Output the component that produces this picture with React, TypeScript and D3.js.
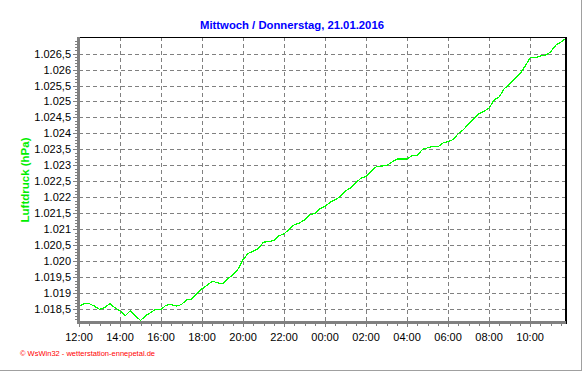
import React, { useEffect, useRef } from "react";
import * as d3 from "d3";

const title = "Mittwoch / Donnerstag, 21.01.2016";
const yTitle = "Luftdruck (hPa)";
const credit = "© WsWin32 - wetterstation-ennepetal.de";

// air pressure (hPa), one reading every 15 minutes from Wed 20.01.2016 12:00
const startTime = new Date(2016, 0, 20, 12, 0);
const pressure = [
  1018.6, 1018.68, 1018.68, 1018.6, 1018.5, 1018.55, 1018.68, 1018.55,
  1018.45, 1018.3, 1018.45, 1018.3, 1018.15, 1018.3, 1018.4, 1018.5,
  1018.5, 1018.63, 1018.65, 1018.6, 1018.65, 1018.8, 1018.82, 1019.0,
  1019.14, 1019.25, 1019.38, 1019.33, 1019.3, 1019.45, 1019.58, 1019.75,
  1020.05, 1020.25, 1020.32, 1020.4, 1020.6, 1020.62, 1020.65, 1020.8,
  1020.86, 1021.0, 1021.15, 1021.2, 1021.3, 1021.45, 1021.5, 1021.65,
  1021.72, 1021.85, 1021.93, 1022.03, 1022.2, 1022.3, 1022.46, 1022.6,
  1022.65, 1022.82, 1022.96, 1022.98, 1023.0, 1023.1, 1023.2, 1023.2,
  1023.2, 1023.31, 1023.31, 1023.5, 1023.55, 1023.6, 1023.58, 1023.7,
  1023.75, 1023.81, 1024.0, 1024.12, 1024.3, 1024.45, 1024.62, 1024.69,
  1024.8, 1025.05, 1025.15, 1025.41, 1025.54, 1025.7, 1025.86, 1026.1,
  1026.37, 1026.37, 1026.42, 1026.45, 1026.55, 1026.76, 1026.86, 1026.97,
];

const yTicks = [
  1018.5, 1019, 1019.5, 1020, 1020.5, 1021, 1021.5, 1022, 1022.5, 1023,
  1023.5, 1024, 1024.5, 1025, 1025.5, 1026, 1026.5,
];

const de = d3.formatLocale({
  decimal: ",",
  thousands: ".",
  grouping: [3],
  currency: ["", " €"],
});
const fmtY = de.format(",.1~f");
const fmtX = d3.timeFormat("%H:%M");

const FONT = "'Liberation Sans', Arial, sans-serif";
const GRID = "#808080";

export default function App() {
  const svgRef = useRef<SVGSVGElement>(null);

  useEffect(() => {
    const svg = d3.select(svgRef.current);
    svg.selectAll("*").remove();

    const data = pressure.map((v, i) => ({
      time: d3.timeMinute.offset(startTime, i * 15),
      value: v,
    }));

    const left = 79, right = 566, top = 37, bottom = 321;

    const x = d3
      .scaleTime()
      .domain(d3.extent(data, (d) => d.time) as [Date, Date])
      .range([left, right]);
    const y = d3
      .scaleLinear()
      .domain(d3.extent(data, (d) => d.value) as [number, number])
      .range([320.5, 38.5]);

    svg.append("rect").attr("width", 584).attr("height", 372).attr("fill", "#fff");

    const majorX = x.ticks(d3.timeHour.every(2));
    const minorX = x.ticks(d3.timeMinute.every(30));

    // grid
    const grid = svg.append("g").attr("shape-rendering", "crispEdges");
    grid
      .selectAll(".hgrid")
      .data(yTicks)
      .join("line")
      .attr("x1", left)
      .attr("x2", right)
      .attr("y1", (d) => Math.round(y(d)) + 0.5)
      .attr("y2", (d) => Math.round(y(d)) + 0.5)
      .attr("stroke", GRID)
      .attr("stroke-dasharray", "4,3");
    grid
      .selectAll(".vgrid")
      .data(majorX.filter((d) => x(d) > left + 2))
      .join("line")
      .attr("x1", (d) => Math.round(x(d)) + 0.5)
      .attr("x2", (d) => Math.round(x(d)) + 0.5)
      .attr("y1", top)
      .attr("y2", bottom)
      .attr("stroke", GRID)
      .attr("stroke-dasharray", "4,3");

    // pressure line, aliased like the original station software
    const line = d3
      .line<{ time: Date; value: number }>()
      .x((d) => x(d.time))
      .y((d) => y(d.value));
    svg
      .append("path")
      .datum(data)
      .attr("d", line)
      .attr("fill", "none")
      .attr("stroke", "#00ff00")
      .attr("stroke-width", 1.2)
      .attr("shape-rendering", "crispEdges");

    // frame: black top and right, grey axes left and bottom
    const frame = svg.append("g").attr("shape-rendering", "crispEdges");
    frame.append("line").attr("x1", left).attr("x2", right + 1).attr("y1", top + 0.5).attr("y2", top + 0.5).attr("stroke", "#000");
    frame.append("line").attr("x1", right).attr("x2", right).attr("y1", top).attr("y2", bottom + 3).attr("stroke", "#000").attr("stroke-width", 2);
    frame.append("rect").attr("x", 77).attr("y", top).attr("width", 3).attr("height", bottom + 3 - top).attr("fill", GRID);
    frame.append("rect").attr("x", 77).attr("y", bottom).attr("width", right - 77).attr("height", 3).attr("fill", GRID);

    // x ticks
    frame
      .selectAll(".xminor")
      .data(minorX)
      .join("line")
      .attr("x1", (d) => Math.round(x(d)) + 0.5)
      .attr("x2", (d) => Math.round(x(d)) + 0.5)
      .attr("y1", bottom + 3)
      .attr("y2", (d) => (majorX.some((m) => +m === +d) ? bottom + 6 : bottom + 5))
      .attr("stroke", GRID);

    // y ticks (0.1 hPa steps)
    const minorY = y.ticks(90);
    frame
      .selectAll(".yminor")
      .data(minorY)
      .join("line")
      .attr("x1", (d) => (yTicks.some((t) => Math.abs(t - d) < 1e-6) ? 73 : 75))
      .attr("x2", 77)
      .attr("y1", (d) => Math.round(y(d)) + 0.5)
      .attr("y2", (d) => Math.round(y(d)) + 0.5)
      .attr("stroke", GRID);

    // tick labels
    svg
      .selectAll(".ylab")
      .data(yTicks)
      .join("text")
      .attr("x", 71)
      .attr("y", (d) => y(d) + 4)
      .attr("text-anchor", "end")
      .attr("font-family", FONT)
      .attr("font-size", 11)
      .attr("fill", "#000")
      .text((d) => fmtY(d));
    svg
      .selectAll(".xlab")
      .data(majorX)
      .join("text")
      .attr("x", (d) => x(d))
      .attr("y", 341)
      .attr("text-anchor", "middle")
      .attr("font-family", FONT)
      .attr("font-size", 11)
      .attr("fill", "#000")
      .text((d) => fmtX(d));

    // titles
    svg
      .append("text")
      .attr("x", 292)
      .attr("y", 29)
      .attr("text-anchor", "middle")
      .attr("font-family", FONT)
      .attr("font-weight", "bold")
      .attr("font-size", 11.3)
      .attr("fill", "#0000ff")
      .text(title);
    svg
      .append("text")
      .attr("transform", "translate(29,180) rotate(-90)")
      .attr("text-anchor", "middle")
      .attr("font-family", FONT)
      .attr("font-weight", "bold")
      .attr("font-size", 11.5)
      .attr("fill", "#00ee00")
      .text(yTitle);
    svg
      .append("text")
      .attr("x", 20)
      .attr("y", 356)
      .attr("font-family", FONT)
      .attr("font-size", 7)
      .attr("textLength", 135)
      .attr("lengthAdjust", "spacingAndGlyphs")
      .attr("fill", "#ff0000")
      .text(credit);

    // outer window border
    frame.append("line").attr("x1", 581.5).attr("x2", 581.5).attr("y1", 0).attr("y2", 371).attr("stroke", "#a0a0a0");
    frame.append("line").attr("x1", 0).attr("x2", 582).attr("y1", 370.5).attr("y2", 370.5).attr("stroke", "#a0a0a0");
  }, []);

  return (
    <svg
      ref={svgRef}
      width={584}
      height={372}
      style={{ position: "absolute", left: 0, top: 0, display: "block" }}
    />
  );
}
